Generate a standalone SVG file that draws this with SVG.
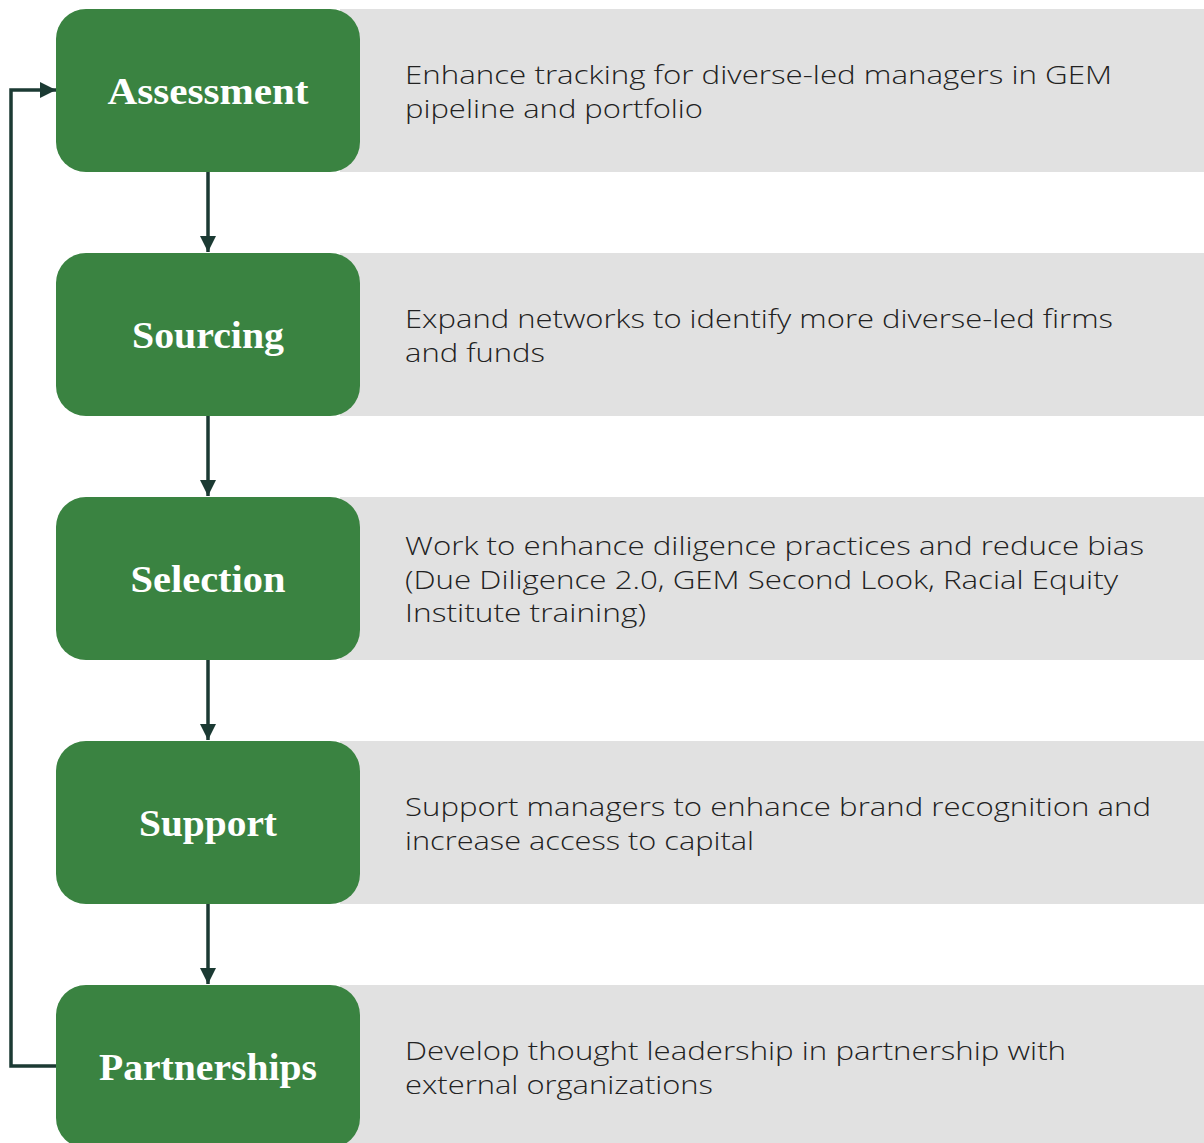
<svg xmlns="http://www.w3.org/2000/svg" width="1204" height="1143" viewBox="0 0 1204 1143">
  <style>
    .band { fill: #e1e1e1; }
    .step { fill: #3a8341; }
    .title { font-family: "Liberation Serif", "Times New Roman", serif; font-weight: bold; font-size: 38px; fill: #ffffff; text-anchor: middle; }
    .desc { font-family: "Open Sans", "Liberation Sans", sans-serif; font-weight: 300; font-size: 26px; fill: #222222; }
    .link { fill: none; stroke: #1b3a33; stroke-width: 3.5; }
  </style>
  <defs>
    <marker id="arrow" viewBox="0 0 16 16" refX="16" refY="8" markerWidth="16" markerHeight="16" markerUnits="userSpaceOnUse" orient="auto">
      <path d="M0,0 L16,8 L0,16 Z" fill="#1b3a33"/>
    </marker>
  </defs>
  <rect width="1204" height="1143" fill="#ffffff"/>

  <g id="assessment">
    <rect class="band" x="340" y="9" width="880" height="163"/>
    <rect class="step" x="56" y="9" width="304" height="163" rx="30"/>
    <text class="title" x="208" y="104" textLength="201" lengthAdjust="spacingAndGlyphs">Assessment</text>
    <text class="desc" x="405" y="84" textLength="707" lengthAdjust="spacingAndGlyphs">Enhance tracking for diverse-led managers in GEM</text>
    <text class="desc" x="405" y="118" textLength="298" lengthAdjust="spacingAndGlyphs">pipeline and portfolio</text>
  </g>

  <g id="sourcing">
    <rect class="band" x="340" y="253" width="880" height="163"/>
    <rect class="step" x="56" y="253" width="304" height="163" rx="30"/>
    <text class="title" x="208" y="348" textLength="152" lengthAdjust="spacingAndGlyphs">Sourcing</text>
    <text class="desc" x="405" y="328" textLength="708" lengthAdjust="spacingAndGlyphs">Expand networks to identify more diverse-led firms</text>
    <text class="desc" x="405" y="362" textLength="140" lengthAdjust="spacingAndGlyphs">and funds</text>
  </g>

  <g id="selection">
    <rect class="band" x="340" y="497" width="880" height="163"/>
    <rect class="step" x="56" y="497" width="304" height="163" rx="30"/>
    <text class="title" x="208" y="592" textLength="155" lengthAdjust="spacingAndGlyphs">Selection</text>
    <text class="desc" x="405" y="555" textLength="739" lengthAdjust="spacingAndGlyphs">Work to enhance diligence practices and reduce bias</text>
    <text class="desc" x="405" y="589" textLength="713" lengthAdjust="spacingAndGlyphs">(Due Diligence 2.0, GEM Second Look, Racial Equity</text>
    <text class="desc" x="405" y="622" textLength="241" lengthAdjust="spacingAndGlyphs">Institute training)</text>
  </g>

  <g id="support">
    <rect class="band" x="340" y="741" width="880" height="163"/>
    <rect class="step" x="56" y="741" width="304" height="163" rx="30"/>
    <text class="title" x="208" y="836" textLength="138" lengthAdjust="spacingAndGlyphs">Support</text>
    <text class="desc" x="405" y="816" textLength="746" lengthAdjust="spacingAndGlyphs">Support managers to enhance brand recognition and</text>
    <text class="desc" x="405" y="850" textLength="349" lengthAdjust="spacingAndGlyphs">increase access to capital</text>
  </g>

  <g id="partnerships">
    <rect class="band" x="340" y="985" width="880" height="163"/>
    <rect class="step" x="56" y="985" width="304" height="163" rx="30"/>
    <text class="title" x="208" y="1080" textLength="218" lengthAdjust="spacingAndGlyphs">Partnerships</text>
    <text class="desc" x="405" y="1060" textLength="661" lengthAdjust="spacingAndGlyphs">Develop thought leadership in partnership with</text>
    <text class="desc" x="405" y="1094" textLength="308" lengthAdjust="spacingAndGlyphs">external organizations</text>
  </g>

  <g id="connectors">
    <path class="link" d="M208,172 L208,252" marker-end="url(#arrow)"/>
    <path class="link" d="M208,416 L208,496" marker-end="url(#arrow)"/>
    <path class="link" d="M208,660 L208,740" marker-end="url(#arrow)"/>
    <path class="link" d="M208,904 L208,984" marker-end="url(#arrow)"/>
    <path class="link" d="M56,1066 L11,1066 L11,90 L56,90" marker-end="url(#arrow)"/>
  </g>
</svg>
